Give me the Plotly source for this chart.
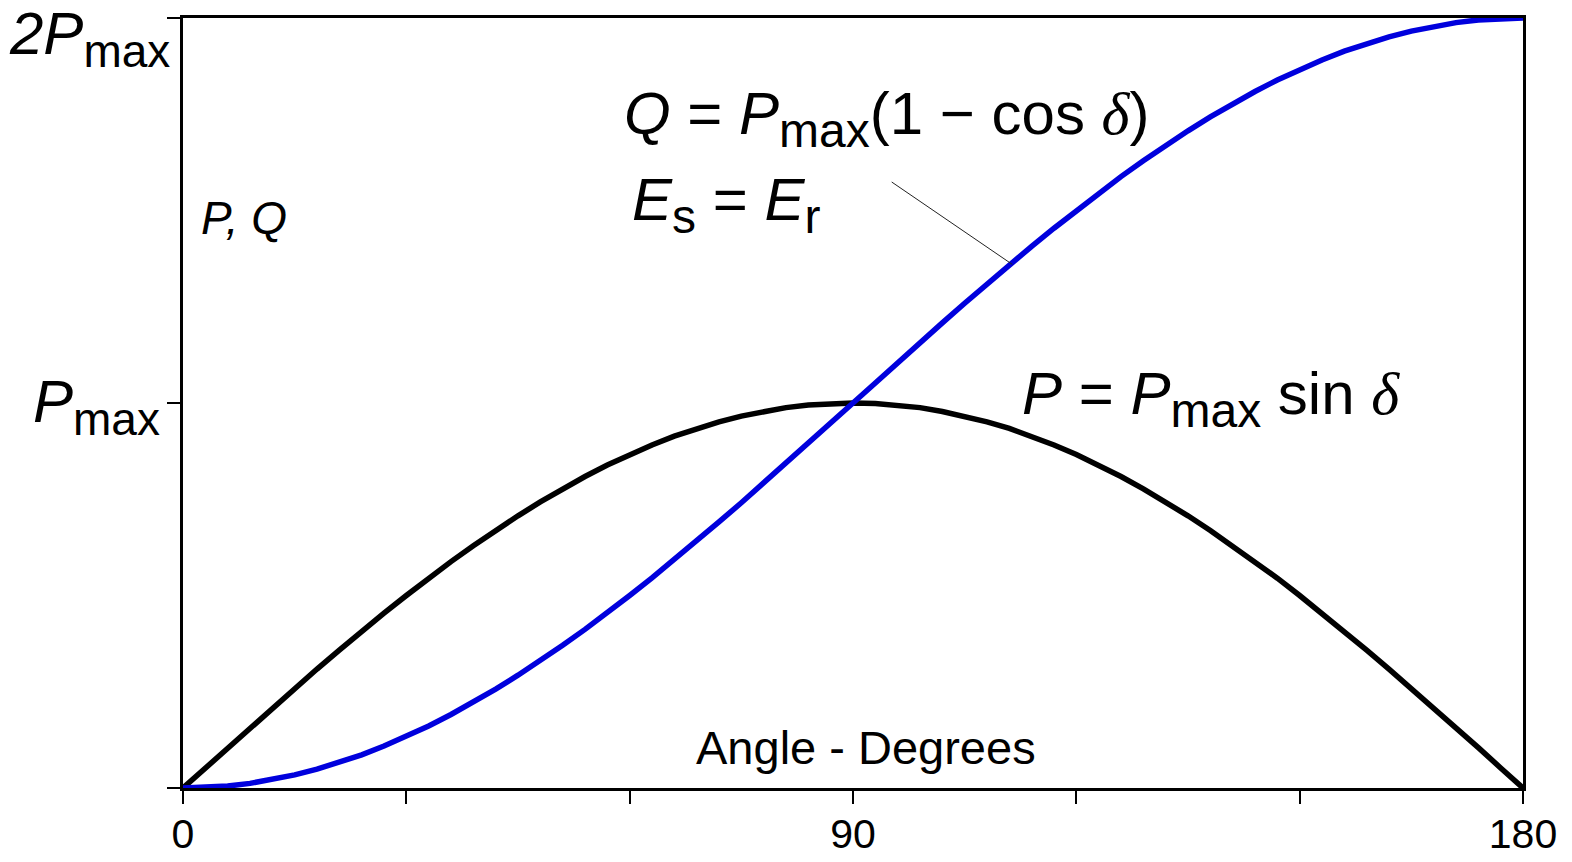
import plotly.graph_objects as go

# Load angle in degrees (3-degree steps)
angle_deg = list(range(0, 181, 3))

p_values = [
    0.000, 0.052, 0.105, 0.156, 0.208, 0.259, 0.309, 0.358, 0.407, 0.454,
    0.500, 0.545, 0.588, 0.629, 0.669, 0.707, 0.743, 0.777, 0.809, 0.839,
    0.866, 0.891, 0.914, 0.934, 0.951, 0.966, 0.978, 0.988, 0.995, 0.999,
    1.000, 0.999, 0.995, 0.988, 0.978, 0.966, 0.951, 0.934, 0.914, 0.891,
    0.866, 0.839, 0.809, 0.777, 0.743, 0.707, 0.669, 0.629, 0.588, 0.545,
    0.500, 0.454, 0.407, 0.358, 0.309, 0.259, 0.208, 0.156, 0.105, 0.052,
    0.000,
]

# Reactive power Q / Pmax with Es = Er
q_values = [
    0.000, 0.001, 0.005, 0.012, 0.022, 0.034, 0.049, 0.066, 0.086, 0.109,
    0.134, 0.161, 0.191, 0.223, 0.257, 0.293, 0.331, 0.371, 0.412, 0.455,
    0.500, 0.546, 0.593, 0.642, 0.691, 0.741, 0.792, 0.844, 0.895, 0.948,
    1.000, 1.052, 1.105, 1.156, 1.208, 1.259, 1.309, 1.358, 1.407, 1.454,
    1.500, 1.545, 1.588, 1.629, 1.669, 1.707, 1.743, 1.777, 1.809, 1.839,
    1.866, 1.891, 1.914, 1.934, 1.951, 1.966, 1.978, 1.988, 1.995, 1.999,
    2.000,
]

x_ticks = [0, 30, 60, 90, 120, 150, 180]
x_tick_labels = ["0", "", "", "90", "", "", "180"]
y_ticks = [0, 1, 2]

FONT = "Liberation Sans, Arial, sans-serif"
DELTA = "<span style='font-family:Liberation Serif, Times New Roman, serif'><i>δ</i></span>"


def sub(text, px):
    return "<sub><span style='font-size:%dpx'>%s</span></sub>" % (px, text)


fig = go.Figure()
fig.add_trace(go.Scatter(
    x=angle_deg, y=p_values, mode="lines",
    line=dict(color="black", width=5.5), showlegend=False,
))
fig.add_trace(go.Scatter(
    x=angle_deg, y=q_values, mode="lines",
    line=dict(color="#0000dd", width=5.5), showlegend=False,
))

axis_common = dict(
    showline=True, linecolor="black", linewidth=3, mirror=True,
    showgrid=False, zeroline=False, automargin=False,
    ticks="outside", ticklen=13, tickwidth=2, tickcolor="black",
)

fig.update_xaxes(
    range=[0, 180], tickvals=x_ticks, ticktext=x_tick_labels,
    tickfont=dict(family=FONT, size=41, color="black"),
    ticklabelstandoff=-5, **axis_common,
)
fig.update_yaxes(
    range=[0, 2], tickvals=y_ticks, showticklabels=False, **axis_common,
)


def label(text, x, y, size, xanchor="left", xref="x"):
    fig.add_annotation(
        x=x, y=y, xref=xref, yref="y", text=text, showarrow=False,
        xanchor=xanchor, yanchor="middle",
        font=dict(family=FONT, size=size, color="black"),
    )


# y-axis labels in units of Pmax
label("<i>2P</i>" + sub("max", 46), -0.008, 1.946, 60, xanchor="right", xref="paper")
label("<i>P</i>" + sub("max", 46), -0.0157, 0.99, 60, xanchor="right", xref="paper")

label("<i>P, Q</i>", 2.2, 1.48, 46)
label("Angle - Degrees", 91.75, 0.104, 47, xanchor="center")

label("<i>Q</i> = <i>P</i>" + sub("max", 48) + "(1 − cos " + DELTA + ")", 59.0, 1.74, 60)
label("<i>E</i>" + sub("s", 48) + " = <i>E</i>" + sub("r", 48), 60.0, 1.515, 60)
label("<i>P</i> = <i>P</i>" + sub("max", 48) + " sin " + DELTA, 112.4, 1.013, 60)

# leader from the Q label to its curve
fig.add_shape(
    type="line", xref="x", yref="y",
    x0=95.2, y0=1.574, x1=111.4, y1=1.36,
    line=dict(color="#222222", width=1),
)

fig.update_layout(
    width=1572, height=862,
    margin=dict(l=183, r=49, t=18, b=74),
    plot_bgcolor="white", paper_bgcolor="white",
    font=dict(family=FONT, color="black"),
)

fig.write_html("out.html")
